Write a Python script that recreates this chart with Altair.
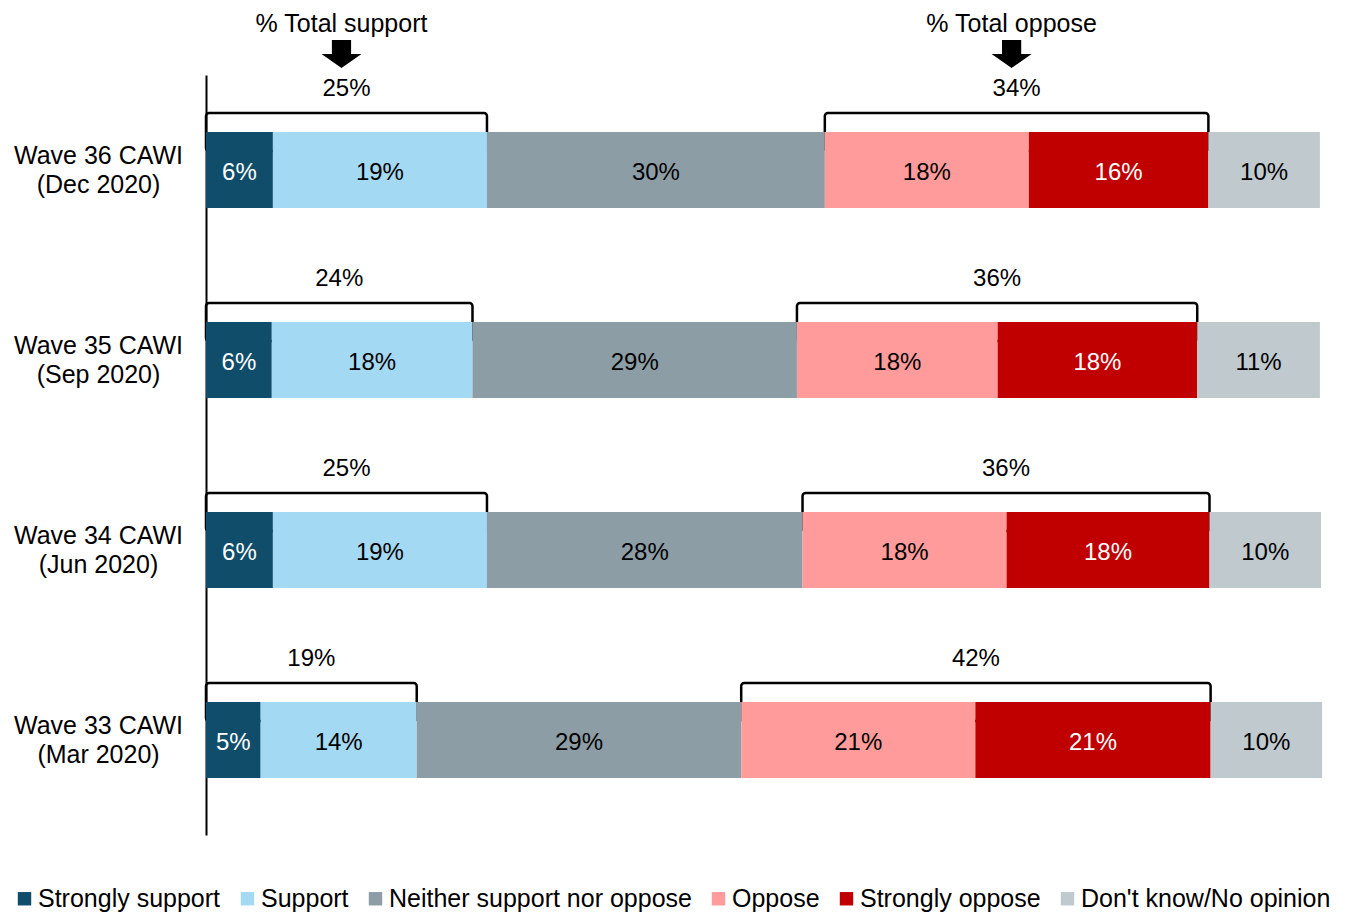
import altair as alt
import pandas as pd

FONT = "Liberation Sans"

rows = ["Wave 36 CAWI|(Dec 2020)", "Wave 35 CAWI|(Sep 2020)",
        "Wave 34 CAWI|(Jun 2020)", "Wave 33 CAWI|(Mar 2020)"]
categories = ["Strongly support", "Support", "Neither support nor oppose",
              "Oppose", "Strongly oppose", "Don't know/No opinion"]
colors = ["#0F4D6A", "#A3D9F3", "#8C9DA6", "#FF9B9B", "#C00000", "#BFC9CE"]
text_colors = ["white", "black", "black", "black", "white", "black"]

# estimated segment values (percent)
w36 = [6.0, 19.2, 30.3, 18.3, 16.1, 10.0]
w35 = [5.9, 18.0, 29.1, 18.0, 17.9, 11.0]
w34 = [6.0, 19.2, 28.3, 18.3, 18.2, 10.0]
w33 = [4.9, 14.0, 29.1, 21.0, 21.1, 10.0]
values = [w36, w35, w34, w33]

# printed labels
l36 = ["6%", "19%", "30%", "18%", "16%", "10%"]
l35 = ["6%", "18%", "29%", "18%", "18%", "11%"]
l34 = ["6%", "19%", "28%", "18%", "18%", "10%"]
l33 = ["5%", "14%", "29%", "21%", "21%", "10%"]
labels = [l36, l35, l34, l33]

support_totals = ["25%", "24%", "25%", "19%"]
oppose_totals = ["34%", "36%", "36%", "42%"]
group_titles = ["% Total support", "% Total oppose"]

recs = []
brk = []
for r, vals, labs, st, ot in zip(rows, values, labels, support_totals, oppose_totals):
    cum = 0.0
    starts = []
    for i, (c, v, lab) in enumerate(zip(categories, vals, labs)):
        recs.append(dict(wave=r, category=c, start=cum, end=cum + v,
                         mid=cum + v / 2, label=lab, tcolor=text_colors[i]))
        starts.append(cum)
        cum += v
    s_end = starts[2]
    o_start = starts[3]
    o_end = starts[5]
    brk.append(dict(wave=r, s=0.0, e=s_end, mid=s_end / 2, lab=st,
                    title=group_titles[0]))
    brk.append(dict(wave=r, s=o_start, e=o_end, mid=(o_start + o_end) / 2, lab=ot,
                    title=group_titles[1]))

df = pd.DataFrame(recs)
dfb = pd.DataFrame(brk)
dft = dfb[dfb["wave"] == rows[0]]

y_enc = alt.Y("wave:N", sort=rows, title=None,
              scale=alt.Scale(paddingInner=0.6, paddingOuter=0.3),
              axis=alt.Axis(labelExpr="split(datum.label, '|')", labelAlign="center",
                            labelBaseline="middle", labelOffset=-14,
                            labelPadding=108, labelFontSize=25, labelLineHeight=29,
                            labelColor="black", ticks=False, domainColor="black",
                            domainWidth=2, labelFont=FONT, labelLimit=300))
x_scale = alt.Scale(domain=[0, 100], nice=False, zero=True)

brackets = alt.Chart(dfb).mark_bar(
    height=38, yOffset=-38, fillOpacity=0, stroke="black", strokeWidth=2.5,
    cornerRadius=3
).encode(y=y_enc, x=alt.X("s:Q", scale=x_scale, axis=None), x2="e:Q")

bars = alt.Chart(df).mark_bar().encode(
    y=y_enc,
    x=alt.X("start:Q", scale=x_scale, axis=None),
    x2="end:Q",
    color=alt.Color("category:N", scale=alt.Scale(domain=categories, range=colors),
                    legend=alt.Legend(orient="none", legendX=-194, legendY=811,
                                      direction="horizontal", columns=6, title=None,
                                      symbolType="square", symbolSize=180,
                                      symbolStrokeWidth=0, symbolOpacity=1,
                                      labelFontSize=25, labelFont=FONT,
                                      labelColor="black", labelOffset=1,
                                      labelLimit=500,
                                      columnPadding=14, padding=0)),
)

bar_text = alt.Chart(df).mark_text(fontSize=24, font=FONT, dy=3).encode(
    y=y_enc, x=alt.X("mid:Q", scale=x_scale, axis=None), text="label:N",
    color=alt.Color("tcolor:N", scale=None))

total_text = alt.Chart(dfb).mark_text(fontSize=24, font=FONT, yOffset=-81,
                                      color="black").encode(
    y=y_enc, x=alt.X("mid:Q", scale=x_scale, axis=None), text="lab:N")

arrow_path = "M-0.48,-0.7 L0.48,-0.7 L0.48,0 L1,0 L0,0.7 L-1,0 L-0.48,0 Z"
arrows = alt.Chart(dft).mark_point(shape=arrow_path, size=1600, filled=True,
                                   color="black", opacity=1, yOffset=-116,
                                   xOffset=-5).encode(
    y=y_enc, x=alt.X("mid:Q", scale=x_scale, axis=None))

titles = alt.Chart(dft).mark_text(fontSize=25, font=FONT, yOffset=-146, xOffset=-5,
                                  color="black").encode(
    y=y_enc, x=alt.X("mid:Q", scale=x_scale, axis=None), text="title:N")

chart = alt.layer(brackets, bars, bar_text, total_text, arrows, titles).properties(
    width=1115, height=760,
    autosize=alt.AutoSizeParams(type="none"),
    padding={"left": 206, "top": 75, "right": 26, "bottom": 77},
).configure(font=FONT).configure_view(stroke="transparent", strokeWidth=0)

chart.save("out.html", embed_options={"renderer": "svg", "actions": False})
